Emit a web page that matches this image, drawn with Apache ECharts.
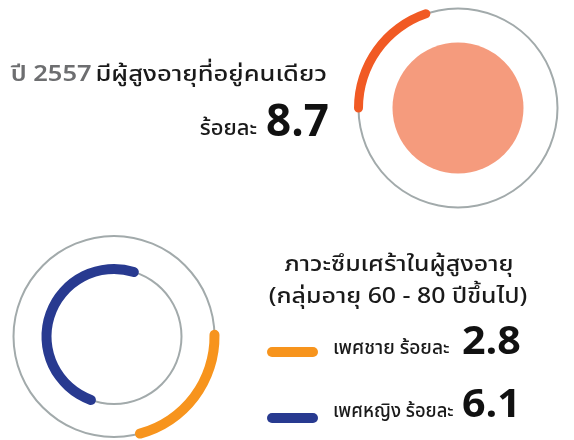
<!DOCTYPE html>
<html>
<head>
<meta charset="utf-8">
<script src="https://cdn.jsdelivr.net/npm/echarts@6/dist/echarts.min.js"></script>
<style>
html, body { margin: 0; padding: 0; background: #fff; }
#chart { width: 574px; height: 440px; }
</style>
</head>
<body>
<div id="chart"></div>
<script>
// ข้อมูล
var aloneYear = 'ปี 2557';
var aloneLabel = 'มีผู้สูงอายุที่อยู่คนเดียว';
var aloneValue = [8.7];
var depressTitle = ['ภาวะซึมเศร้าในผู้สูงอายุ', '(กลุ่มอายุ 60 - 80 ปีขึ้นไป)'];
var genderNames = ['เพศชาย', 'เพศหญิง'];
var depressValues = [2.8, 6.1];
var unitText = 'ร้อยละ';

var FONT = '"Noto Sans Thai", "Noto Sans", sans-serif';
var grey = '#a2aaab';
var genderColors = ['#f7941d', '#283a90'];

function ring(center, r) {
    return {
        type: 'gauge', center: center, radius: r + 1, silent: true,
        startAngle: 90, endAngle: -270,
        axisLine: { lineStyle: { width: 2, color: [[1, grey]] } },
        splitLine: { show: false }, axisTick: { show: false }, axisLabel: { show: false },
        pointer: { show: false }, anchor: { show: false }, title: { show: false }, detail: { show: false },
        data: [{ value: 0 }]
    };
}

function arc(center, r, width, start, max, value, color) {
    return {
        type: 'gauge', center: center, radius: r + width / 2, silent: true,
        startAngle: start, endAngle: start - 360, min: 0, max: max,
        axisLine: { show: false },
        progress: { show: true, width: width, roundCap: true, itemStyle: { color: color } },
        splitLine: { show: false }, axisTick: { show: false }, axisLabel: { show: false },
        pointer: { show: false }, anchor: { show: false }, title: { show: false }, detail: { show: false },
        data: [{ value: value }]
    };
}

// ข้อความ (ยืดแนวนอนให้ใกล้ฟอนต์ต้นฉบับ)
function txt(x, y, text, align, font, sx, fill) {
    return {
        type: 'text', x: x, y: y, scaleX: sx || 1,
        style: { text: text, align: align, verticalAlign: 'middle', font: font, fill: fill || '#1a1a1a' }
    };
}

var chart = echarts.init(document.getElementById('chart'));

var option = {
    animation: false,
    series: [
        {
            type: 'pie', center: [458, 108], radius: [0, 65.5], silent: true,
            label: { show: false }, labelLine: { show: false },
            itemStyle: { color: '#f59b7d' },
            data: [{ value: aloneValue[0] }]
        },
        ring([458, 108], 99.5),
        arc([458, 108], 99.5, 9, 180, 44, aloneValue[0], '#f15a24'),
        ring([114, 336.5], 100.5),
        ring([114, 336.5], 67.5),
        arc([114, 336.5], 100.5, 10, 1, 13.26, depressValues[0], genderColors[0]),
        arc([114, 336.5], 67.5, 10, 250, 12.4, depressValues[1], genderColors[1])
    ],
    graphic: [
        {
            type: 'text', x: 327, y: 77, scaleX: 1.16,
            style: {
                text: '{a|' + aloneYear + '} {b|' + aloneLabel + '}',
                align: 'right', verticalAlign: 'middle',
                rich: {
                    a: { fontFamily: FONT, fontSize: 22, fontWeight: 600, fill: '#6d6e70', color: '#6d6e70' },
                    b: { fontFamily: FONT, fontSize: 22, fontWeight: 500, fill: '#1a1a1a', color: '#1a1a1a' }
                }
            }
        },
        txt(257, 131, unitText, 'right', '500 22px ' + FONT),
        txt(266, 127, String(aloneValue[0]), 'left', 'bold 44px ' + FONT, 1, '#111'),
        txt(399, 267, depressTitle[0], 'center', '500 22px ' + FONT, 1.13),
        txt(398, 299, depressTitle[1], 'center', '500 22px ' + FONT, 1.13),
        // แถบสีคำอธิบาย
        { type: 'rect', shape: { x: 267, y: 347, width: 51, height: 10, r: 5 }, style: { fill: genderColors[0] } },
        { type: 'rect', shape: { x: 267, y: 413, width: 51, height: 10, r: 5 }, style: { fill: genderColors[1] } },
        txt(333, 350, genderNames[0] + ' ' + unitText, 'left', '500 20px ' + FONT, 0.96),
        txt(462, 346, String(depressValues[0]), 'left', 'bold 40px ' + FONT, 1.03, '#111'),
        txt(333, 413, genderNames[1] + ' ' + unitText, 'left', '500 20px ' + FONT, 0.92),
        txt(462, 409, String(depressValues[1]), 'left', 'bold 40px ' + FONT, 1.03, '#111')
    ]
};
chart.setOption(option);
</script>
</body>
</html>
